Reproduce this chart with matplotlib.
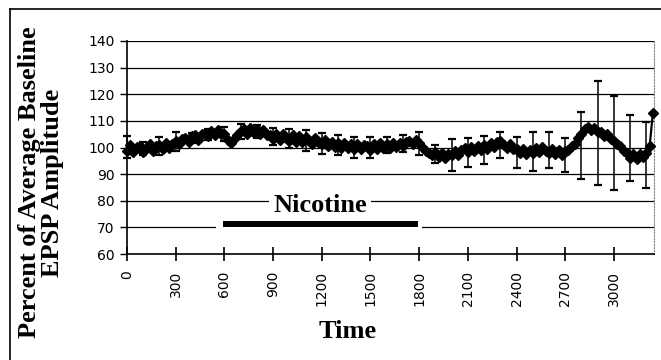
import numpy as np
import matplotlib.pyplot as plt
from matplotlib.lines import Line2D

# sample times (s), one point every 20 s
time = list(range(0, 3260, 20))

# percent of baseline EPSP amplitude
amplitude = [
    98.6, 100.8, 98.2, 100.2, 100.6, 98.4, 99.8, 101.2, 98.8, 100.4,
    101.0, 99.4, 101.6, 100.0, 101.4, 102.6, 101.2, 103.2, 103.4, 102.0,
    104.2, 104.6, 103.0, 105.2, 105.6, 104.2, 106.2, 104.6, 106.6, 105.0,
    105.2, 102.8, 101.6, 103.2, 104.8, 106.2, 106.8, 105.2, 107.2, 105.6,
    106.9, 105.0, 106.6, 104.6, 104.6, 103.2, 105.2, 103.0, 105.0, 103.4,
    102.6, 104.6, 102.2, 104.2, 102.0, 104.0, 102.4, 101.4, 103.6, 101.8,
    101.2, 102.8, 100.4, 102.2, 100.2, 101.8, 99.8, 101.6, 100.0, 101.2,
    99.6, 101.4, 99.4, 101.0, 100.6, 99.2, 101.2, 99.6, 101.6, 100.0,
    101.4, 99.8, 101.8, 100.2, 101.6, 100.4, 102.0, 102.6, 101.4, 102.8,
    101.8, 100.2, 98.8, 98.0, 97.0, 98.2, 96.4, 97.8, 96.2, 97.6,
    97.2, 98.6, 97.0, 99.0, 99.8, 98.4, 100.2, 98.8, 100.6, 99.2,
    100.8, 99.4, 101.6, 100.2, 102.0, 102.6, 101.0, 100.0, 101.2, 99.4,
    99.6, 98.0, 99.4, 97.6, 99.2, 97.8, 99.8, 98.2, 100.2, 98.6,
    98.0, 99.6, 97.6, 99.2, 97.2, 98.8, 99.0, 100.6, 101.4, 103.6,
    105.0, 106.8, 107.6, 106.6, 107.4, 106.0, 105.8, 104.2, 105.0, 103.2,
    102.4, 101.2, 100.4, 98.6, 97.8, 96.2, 97.4, 95.8, 97.6, 96.6,
    97.8, 100.4, 113.0,
]

# error bars every 100 s: top and bottom ends
err_time = list(range(0, 3300, 100))
err_top = [104.4, 102.2, 103.9, 105.8, 105.6, 107.0, 107.8, 108.8, 108.6, 107.2,
           107.0, 106.6, 105.6, 104.8, 104.1, 103.8, 104.1, 104.7, 105.9, 100.9,
           103.1, 103.5, 104.4, 105.9, 104.1, 105.7, 105.7, 103.5, 113.2, 125.1,
           119.5, 112.2, 109.7]
err_bottom = [96.0, 97.0, 97.2, 98.6, 101.6, 103.0, 102.4, 103.2, 103.4, 100.8,
              100.0, 98.5, 97.5, 97.2, 96.2, 96.2, 97.8, 98.4, 97.1, 94.1,
              91.3, 92.8, 93.8, 96.0, 92.2, 91.3, 92.2, 90.9, 88.0, 85.9,
              84.0, 87.5, 84.9]

nicotine_start, nicotine_end = 590, 1790
nicotine_level = 71.2

yticks = list(range(60, 150, 10))
xticks = list(range(0, 3300, 300))

serif = 'Liberation Serif'

fig = plt.figure(figsize=(6.61, 3.6), dpi=100)
ax = fig.add_axes([127 / 661, 106 / 360, 527 / 661, 213 / 360])

for v in yticks[1:]:
    ax.axhline(v, color='black', lw=0.9, zorder=1)

# error bars
err_mid = [(a + b) / 2 for a, b in zip(err_top, err_bottom)]
err_half = [(a - b) / 2 for a, b in zip(err_top, err_bottom)]
ax.errorbar(err_time, err_mid, yerr=err_half, fmt='none', ecolor='black',
            elinewidth=1.1, capsize=3, capthick=1.6, zorder=3, clip_on=False)

# mean trace
ax.plot(time, amplitude, color='black', lw=1.6, marker='D', markersize=5.5,
        markerfacecolor='black', markeredgecolor='black', zorder=4, clip_on=False)

# nicotine bar, white behind it to break the gridline
ax.plot([nicotine_start - 40, nicotine_end + 28], [nicotine_level, nicotine_level],
        color='white', lw=7, solid_capstyle='butt', zorder=2)
ax.plot([nicotine_start, nicotine_end], [nicotine_level, nicotine_level],
        color='black', lw=4.3, solid_capstyle='butt', zorder=2.5)
ax.text((nicotine_start + nicotine_end) / 2, 78.2, 'Nicotine', family=serif,
        fontsize=19, fontweight='bold', ha='center', va='center', zorder=2.5,
        bbox=dict(facecolor='white', edgecolor='none', pad=3))

ax.set_xlim(0, 3247)
ax.set_ylim(60, 140)
ax.set_yticks(yticks)
ax.set_xticks(xticks)
ax.set_xticklabels([str(x) for x in xticks], rotation=90)
ax.tick_params(axis='y', direction='out', length=5, width=1, pad=4, labelsize=10)
ax.tick_params(axis='x', direction='inout', length=10, width=1.2, pad=7, labelsize=10)

ax.spines['top'].set_visible(False)
ax.spines['right'].set_color('gray')
ax.spines['right'].set_linestyle(':')
ax.spines['left'].set_linewidth(1.2)
ax.spines['bottom'].set_linewidth(1.2)

fig.text(41 / 661, 1 - 182.5 / 360, 'Percent of Average Baseline\nEPSP Amplitude',
         family=serif, fontsize=19, fontweight='bold', rotation=90,
         ha='center', va='center', multialignment='center', linespacing=1.0)
fig.text(347.5 / 661, 1 - 331 / 360, 'Time', family=serif, fontsize=19,
         fontweight='bold', ha='center', va='center')

# outer frame
fig.add_artist(Line2D([10 / 661, 10 / 661], [0, 1 - 9 / 360], color='black', lw=1.2))
fig.add_artist(Line2D([10 / 661, 1], [1 - 9 / 360, 1 - 9 / 360], color='black', lw=1.2))

fig.savefig('out.png', dpi=100)
